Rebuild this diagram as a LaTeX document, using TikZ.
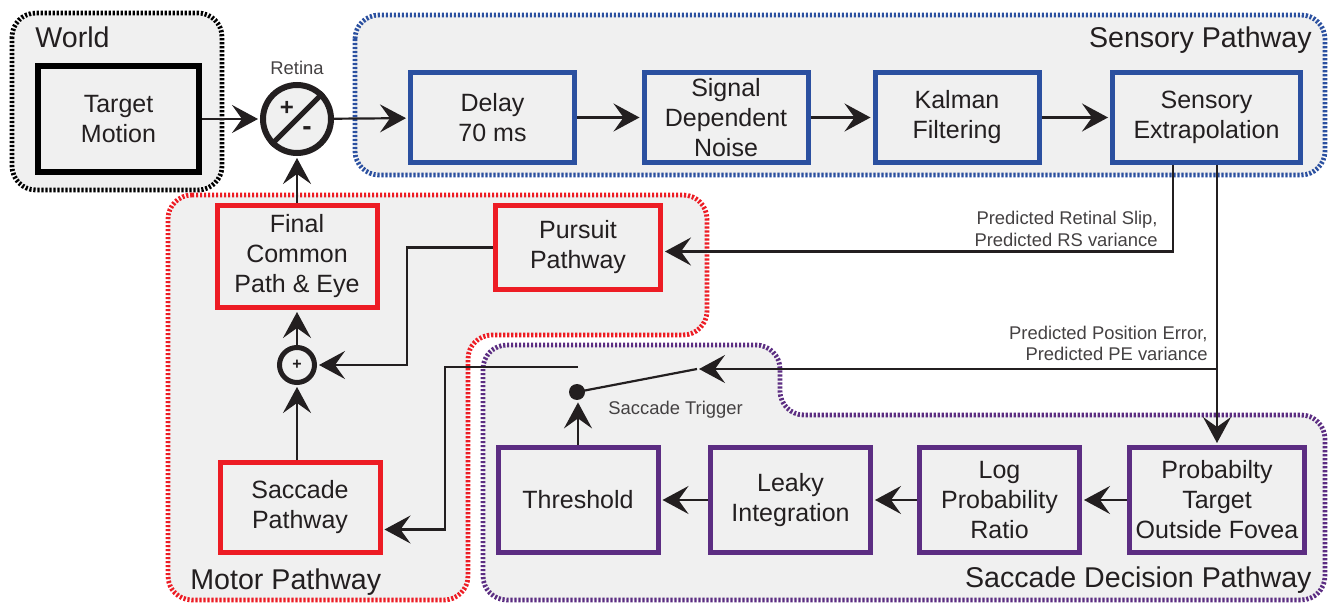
\documentclass[tikz,border=0pt]{standalone}
\usepackage{fontspec}
\setmainfont{Liberation Sans}
\usepackage{xcolor}
\definecolor{ink}{HTML}{231F20}
\definecolor{bg}{HTML}{F0F0F0}
\definecolor{sen}{HTML}{2B50A0}
\definecolor{mot}{HTML}{ED1C24}
\definecolor{dec}{HTML}{5C2D82}
\usetikzlibrary{arrows.meta}
\tikzset{
  >={Stealth[length=13pt,width=14pt,inset=5pt]},
  reg/.style={line width=2.4pt,dash pattern=on 1.1pt off 0.9pt,fill=bg,rounded corners=12pt},
  box/.style={draw,line width=2.5pt,fill=bg,align=center,text=ink,inner sep=0pt,minimum height=45pt,font=\fontsize{12.5}{15}\selectfont},
  sbox/.style={box,draw=sen,minimum width=82pt},
  mbox/.style={box,draw=mot,minimum width=80pt},
  dbox/.style={box,draw=dec,minimum width=80pt,minimum height=52.5pt},
  rlab/.style={text=ink,font=\fontsize{14.3}{17}\selectfont,inner sep=0pt},
  lab/.style={text=ink!85,font=\fontsize{9.2}{10.8}\selectfont,align=right,inner sep=0pt},
  wire/.style={draw=ink,line width=1.1pt},
  arr/.style={wire,->,shorten >=1pt},
}
\begin{document}
\begin{tikzpicture}[x=0.5pt,y=-0.5pt]
\useasboundingbox (0,0) rectangle (1334,604);
% regions
\draw[reg,draw=black] (12,13) rectangle (222,190);
\draw[reg,draw=sen] (355,15) rectangle (1325,175);
\draw[reg,draw=mot] (168,195) -- (707,195) -- (707,335) -- (468,335) -- (468,600) -- (168,600) -- cycle;
\draw[reg,draw=dec] (483,345) -- (780,345) -- (780,415) -- (1325,415) -- (1325,600) -- (483,600) -- cycle;
\node[rlab,anchor=west] (lworld) at (35,37) {World};
\node[rlab,anchor=east] (lsen) at (1312,40) {Sensory Pathway};
\node[rlab,anchor=west] (lmot) at (190,582) {Motor Pathway};
\node[rlab,anchor=east] (ldec) at (1312,580) {Saccade Decision Pathway};

% blocks
\node[box,draw=black,line width=3pt,minimum width=80.5pt,minimum height=53pt] (tgt) at (118.5,119) {Target\\Motion};
\node[circle,draw=ink,line width=3pt,fill=bg,minimum size=34pt,inner sep=0pt] (ret) at (297,119) {};
\draw[ink,line width=2.5pt] (ret.225) -- (ret.45);
\node[text=ink,font=\bfseries\fontsize{12}{12}\selectfont,inner sep=0pt] (plus) at (287,108) {+};
\node[text=ink,font=\bfseries\fontsize{14}{14}\selectfont,inner sep=0pt] (minus) at (307,131) {-};
\node[lab] (lret) at (297,68) {Retina};
\node[sbox] (delay) at (492.5,117.5) {Delay\\70 ms};
\node[sbox] (noise) at (726,117.5) {Signal\\Dependent\\Noise};
\node[sbox] (kal) at (957,117.5) {Kalman\\Filtering};
\node[sbox,minimum width=94pt] (extra) at (1206.5,117.5) {Sensory\\Extrapolation};

\node[mbox,minimum height=51pt] (fcp) at (297,256.5) {Final\\Common\\Path \& Eye};
\node[mbox,minimum width=82.5pt,minimum height=42pt] (pur) at (578,247.5) {Pursuit\\Pathway};
\node[circle,draw=ink,line width=2.5pt,fill=bg,minimum size=17.5pt,inner sep=0pt,text=ink,font=\bfseries\fontsize{8}{8}\selectfont] (sum) at (297,365) {+};
\node[mbox] (sac) at (300,507.5) {Saccade\\Pathway};

\node[dbox] (thr) at (578,500) {Threshold};
\node[dbox] (leak) at (790.5,500) {Leaky\\Integration};
\node[dbox] (lpr) at (999.5,500) {Log\\Probability\\Ratio};
\node[dbox,minimum width=87.5pt] (prob) at (1217,500) {Probabilty\\Target\\Outside Fovea};

% switch
\node[circle,fill=ink,inner sep=0pt,minimum size=8pt] (piv) at (577,392) {};
\coordinate (cl) at (578,367);
\coordinate (cr) at (697,369);
\node[lab,anchor=west] (ltrig) at (608,410) {Saccade Trigger};

% connectors
\draw[arr] (tgt) -- (ret); \draw[arr] (ret) -- (delay);
\draw[arr] (delay) -- (noise); \draw[arr] (noise) -- (kal); \draw[arr] (kal) -- (extra);
\draw[arr] ([xshift=-16.75pt]extra.south) |- ([yshift=-2pt]pur.east);
\node[lab,anchor=east] (lrs) at (1158,229) {Predicted Retinal Slip,\\Predicted RS variance};
\draw[arr] (prob.north |- extra.south) -- (prob.north);
\draw[arr] (prob.north |- cr) -- (cr);
\draw[wire] (cr) -- (piv.center);
\node[lab,anchor=east] (lpe) at (1208,343.5) {Predicted Position Error,\\Predicted PE variance};
\draw[arr] (cl) -- (445,367) |- ([yshift=-11pt]sac.east);
\draw[arr] (thr.north) -- (thr.north |- piv.south);
\draw[arr] (prob) -- (lpr); \draw[arr] (lpr) -- (leak); \draw[arr] (leak) -- (thr);
\draw[arr] (pur.west) -- ++(-86,0) |- (sum.east);
\draw[arr] (sum.south |- sac.north) -- (sum.south);
\draw[arr] (sum) -- (fcp);
\draw[arr] (fcp) -- (ret);
\end{tikzpicture}
\end{document}
